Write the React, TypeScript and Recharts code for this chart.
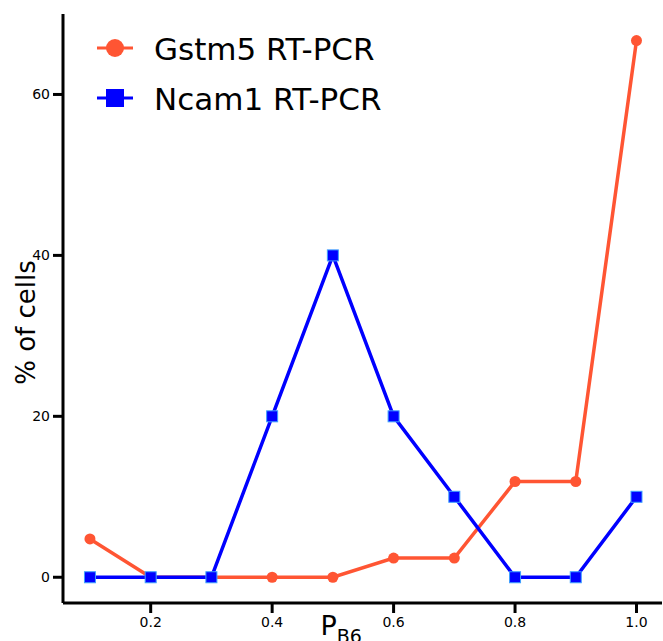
import React from "react";
import { LineChart, Line, XAxis, YAxis } from "recharts";

const pValues = [0.1, 0.2, 0.3, 0.4, 0.5, 0.6, 0.7, 0.8, 0.9, 1.0];
const gstm5 = [4.76, 0, 0, 0, 0, 2.38, 2.38, 11.9, 11.9, 66.7];
const ncam1 = [0, 0, 0, 20, 40, 20, 10, 0, 0, 10];
const xTicks = [0.2, 0.4, 0.6, 0.8, 1.0];
const yTicks = [0, 20, 40, 60];
const seriesNames = ["Gstm5 RT-PCR", "Ncam1 RT-PCR"];

const ORANGE = "#FF5533";
const BLUE = "#0000FF";
const FONT = "DejaVu Sans, sans-serif";

const data = pValues.map((p, i) => ({ p, g: gstm5[i], n: ncam1[i] }));

const CircleDot = (props: any) => {
  const { cx, cy } = props;
  if (cx == null || cy == null) return null;
  return <circle cx={cx} cy={cy} r={5.5} fill={ORANGE} />;
};

const SquareDot = (props: any) => {
  const { cx, cy } = props;
  if (cx == null || cy == null) return null;
  return (
    <rect x={cx - 5.5} y={cy - 5.5} width={11} height={11} fill={BLUE} stroke="#3fa0ff" strokeWidth={1} />
  );
};

const YLabel = (props: any) => {
  const vb = props.viewBox || {};
  const cx = 26;
  const cy = vb.y + vb.height / 2 + 14;
  return (
    <text x={cx} y={cy} transform={`rotate(-90 ${cx} ${cy})`} textAnchor="middle" dominantBaseline="central"
      fontFamily={FONT} fontSize={26} fill="#000">% of cells</text>
  );
};

const XLabel = (props: any) => {
  const vb = props.viewBox || {};
  const x = vb.x + vb.width / 2 - 42;
  return (
    <text x={x} y={635} fontFamily={FONT} fontSize={27} fill="#000">
      P<tspan fontSize={19} dy={8}>B6</tspan>
    </text>
  );
};

export default function App() {
  return (
    <div style={{ position: "absolute", left: 0, top: 0, width: 663, height: 641, background: "#fff" }}>
      <LineChart width={663} height={641} data={data} margin={{ top: 14, right: 1, bottom: 0, left: 0 }}>
        <XAxis
          dataKey="p"
          type="number"
          domain={[0.0556, 1.042]}
          ticks={xTicks}
          tickFormatter={(v: number) => v.toFixed(1)}
          height={38}
          axisLine={{ stroke: "#000", strokeWidth: 3 }}
          tickLine={{ stroke: "#000", strokeWidth: 3 }}
          tickSize={10}
          tickMargin={4}
          tick={{ fill: "#000", fontSize: 14, fontFamily: FONT }}
          allowDataOverflow
          label={<XLabel />}
        />
        <YAxis
          type="number"
          domain={[-3.2, 70]}
          ticks={yTicks}
          width={63}
          axisLine={{ stroke: "#000", strokeWidth: 3 }}
          tickLine={{ stroke: "#000", strokeWidth: 3 }}
          tickSize={10}
          tickMargin={3}
          tick={{ fill: "#000", fontSize: 14, fontFamily: FONT }}
          allowDataOverflow
          label={<YLabel />}
        />
        <Line dataKey="g" name={seriesNames[0]} stroke={ORANGE} strokeWidth={3.5} dot={<CircleDot />} isAnimationActive={false} />
        <Line dataKey="n" name={seriesNames[1]} stroke={BLUE} strokeWidth={3.5} dot={<SquareDot />} isAnimationActive={false} />
      </LineChart>
      <svg width={400} height={130} style={{ position: "absolute", left: 0, top: 0 }}>
        <line x1={97} y1={48} x2={133} y2={48} stroke={ORANGE} strokeWidth={3} />
        <circle cx={115} cy={48} r={9} fill={ORANGE} />
        <text x={154} y={49} dominantBaseline="central" fontFamily={FONT} fontSize={31} fill="#000">{seriesNames[0]}</text>
        <line x1={97} y1={98} x2={133} y2={98} stroke={BLUE} strokeWidth={3} />
        <rect x={106} y={89} width={18} height={18} fill={BLUE} />
        <text x={154} y={99} dominantBaseline="central" fontFamily={FONT} fontSize={31} fill="#000">{seriesNames[1]}</text>
      </svg>
    </div>
  );
}
